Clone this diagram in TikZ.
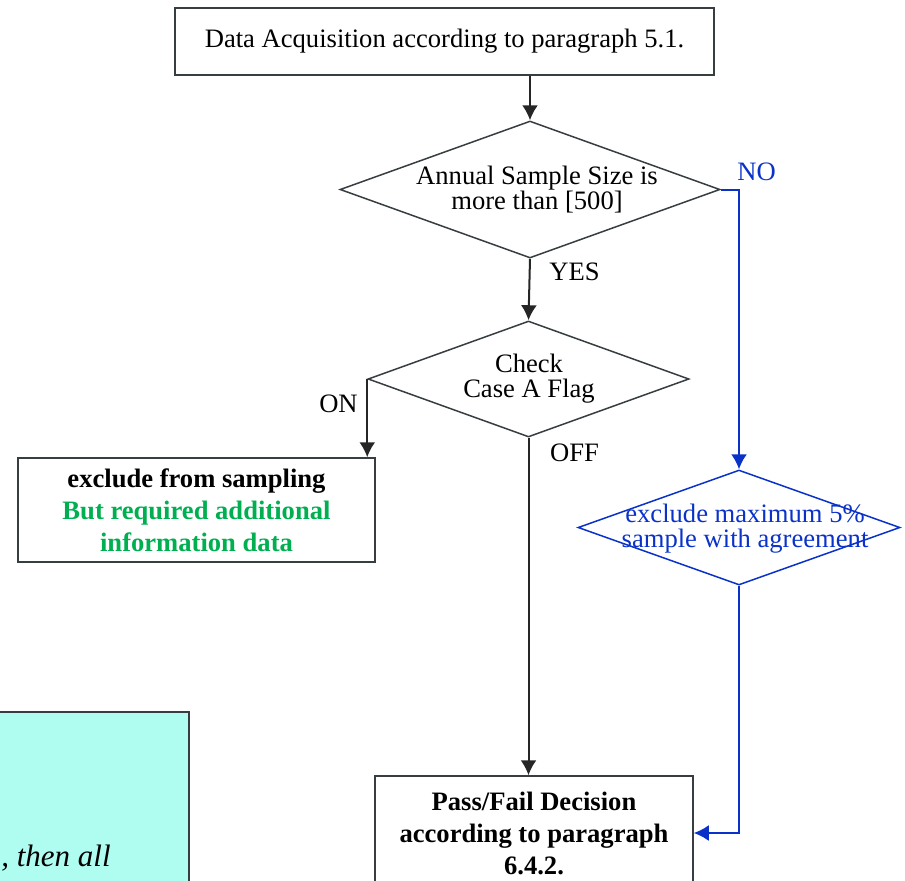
\documentclass[tikz,border=0pt]{standalone}
\usepackage{fontspec}
\setmainfont{Liberation Serif}
\usetikzlibrary{shapes.geometric,arrows.meta}
\definecolor{lineblue}{RGB}{10,50,200}
\definecolor{textgreen}{RGB}{0,176,80}
\definecolor{notecyan}{RGB}{174,253,240}
\definecolor{linegray}{RGB}{55,62,66}
\tikzset{
  flowbox/.style={draw=linegray, line width=0.75pt, inner sep=0pt, align=center},
  decision/.style={diamond, draw=linegray, line width=0.75pt, inner sep=0pt},
  flow/.style={draw=black!85, line width=1pt, -{Latex[length=7.5pt,width=8pt]}},
  flowblue/.style={draw=lineblue, line width=1pt, -{Latex[length=7.5pt,width=8pt]}},
  lbl/.style={inner sep=0pt}
}
\begin{document}
\begin{tikzpicture}[x=0.5pt,y=-0.5pt, font=\fontsize{13.3}{12.5}\selectfont]
\path[use as bounding box] (0,0) rectangle (905,880);
\clip (0,0) rectangle (905,880);
% note box, cut by the page edge
\filldraw[fill=notecyan, draw=linegray, line width=0.75pt] (-10,712) rectangle (189,900);
\node[lbl, anchor=base east, font=\fontsize{15.5}{16}\selectfont\itshape] (note) at (111,866) {, then all};

\node[flowbox, minimum width=269.5pt, minimum height=33.5pt] (acq) at (444.5,41.5) {Data Acquisition according to paragraph 5.1.};
\node[decision, minimum width=190pt, minimum height=68.5pt] (size) at (530,189.5) {};
\node[align=center, lbl] (sizetxt) at (537,190) {Annual Sample Size is\\more than [500]};
\node[decision, minimum width=160.5pt, minimum height=58pt] (flag) at (528.5,379) {};
\node[align=center, lbl] (flagtxt) at (529,379) {Check\\Case A Flag};
\node[flowbox, minimum width=178.5pt, minimum height=52pt, font=\fontsize{13.3}{16}\selectfont\bfseries] (excl) at (196.5,510)
  {exclude from sampling\\\textcolor{textgreen}{But required additional}\\\textcolor{textgreen}{information data}};
\node[decision, draw=lineblue, minimum width=161pt, minimum height=57.5pt] (trim) at (739,527.5) {};
\node[align=center, lbl, text=lineblue] (trimtxt) at (745,528.5) {exclude maximum 5\%\\sample with agreement};
\node[flowbox, minimum width=159pt, minimum height=57pt, font=\fontsize{13.3}{16}\selectfont\bfseries] (pass) at (534,833)
  {Pass/Fail Decision\\according to paragraph\\6.4.2.};

\draw[flow] (acq.south -| size.north) -- (size.north);
\draw[flow] (size.south) -- (flag.north) node[lbl] at (574.5,271.5) {YES};
\draw[flowblue] (size.east) -| (trim.north) node[lbl, text=lineblue] at (756.5,172) {NO};
\draw[flow] (flag.west) -- (flag.west |- excl.north) node[lbl] at (338.5,404) {ON};
\draw[flow] (flag.south) -- (flag.south |- pass.north) node[lbl] at (574.5,453) {OFF};
\draw[flowblue] (trim.south) |- (pass.east);
\end{tikzpicture}
\end{document}
